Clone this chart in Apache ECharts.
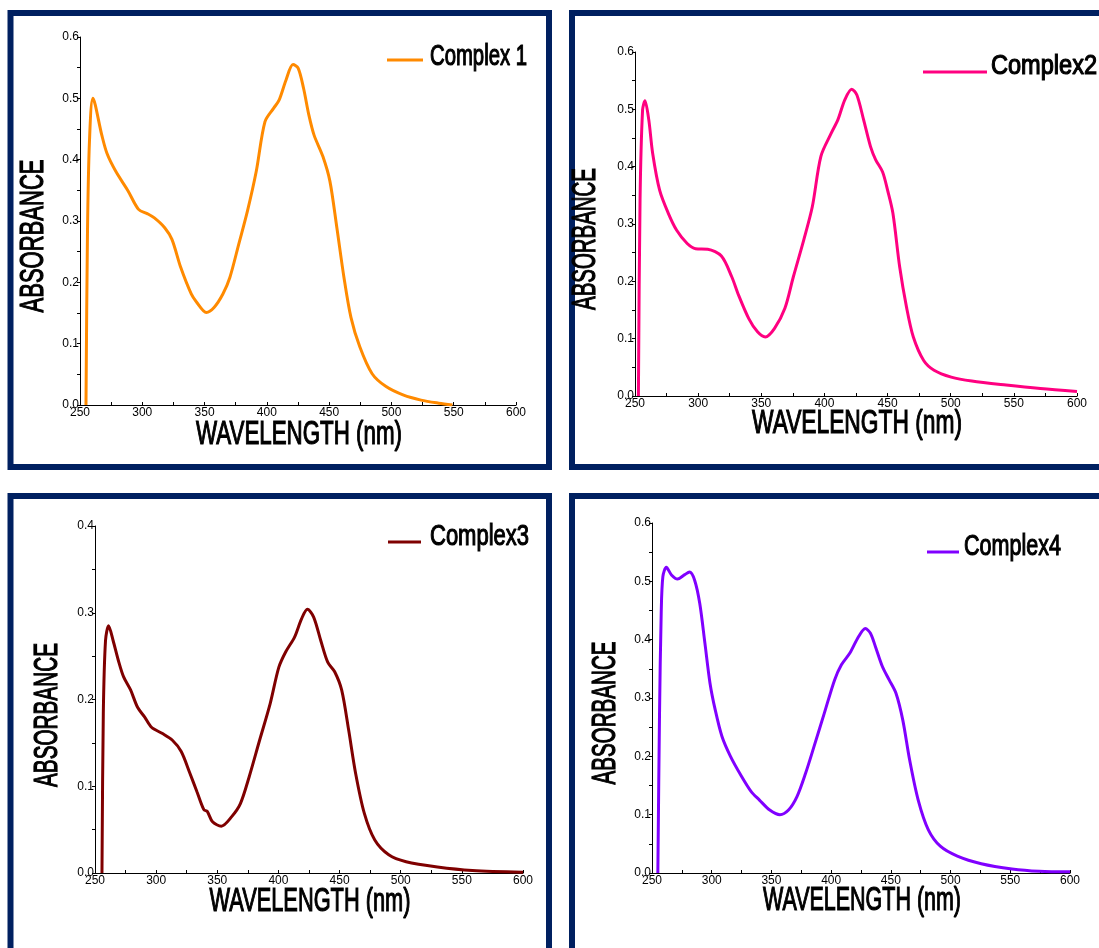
<!DOCTYPE html>
<html>
<head>
<meta charset="utf-8">
<script src="https://cdn.jsdelivr.net/npm/echarts@6/dist/echarts.min.js"></script>
<style>html,body{margin:0;padding:0;background:#fff}#c{width:1099px;height:948px}</style>
</head>
<body>
<div id="c"></div>
<script>
// ---- data (wavelength nm / absorbance) ----
const xTicks = [250, 300, 350, 400, 450, 500, 550, 600];
const seriesNames = ['Complex 1', 'Complex2', 'Complex3', 'Complex4'];

const wl1 = [254.8, 256, 257.6, 260.4, 267.5, 271.7, 278.7, 288.6, 297, 304, 309.7, 318, 323.8, 330.9, 339.3, 343.5, 351.4, 357.6, 364.7, 370.3, 377.4, 384.4, 391.5, 398.5, 405.5, 409.8, 415.4, 421, 425.2, 429.5, 433.7, 437.9, 445, 450.6, 456.2, 461.9, 467.5, 474.6, 484.5, 495.7, 509.8, 523.8, 538, 549];
const abs1 = [0, 0.28, 0.43, 0.50, 0.44, 0.41, 0.381, 0.349, 0.319, 0.312, 0.305, 0.289, 0.27, 0.224, 0.181, 0.168, 0.151, 0.159, 0.181, 0.208, 0.262, 0.316, 0.381, 0.462, 0.484, 0.497, 0.53, 0.555, 0.549, 0.516, 0.473, 0.44, 0.405, 0.365, 0.289, 0.208, 0.143, 0.095, 0.051, 0.030, 0.016, 0.008, 0.003, 0];

const wl2 = [252.7, 254, 256, 257.9, 260.9, 264, 269.5, 276.3, 283, 291.3, 298, 307.6, 318.4, 326.6, 332, 340.1, 347, 353.2, 360.5, 368.7, 375.4, 383.6, 390.4, 397.2, 405.3, 410.7, 416.2, 421.6, 425.7, 431, 436.5, 440.6, 446, 450, 454.2, 459.6, 465, 470.4, 478.6, 486.8, 500.4, 516.7, 543.9, 571, 600];
const abs2 = [0, 0.342, 0.499, 0.515, 0.482, 0.423, 0.359, 0.319, 0.289, 0.266, 0.257, 0.256, 0.244, 0.208, 0.176, 0.135, 0.112, 0.103, 0.118, 0.153, 0.208, 0.272, 0.33, 0.418, 0.458, 0.482, 0.517, 0.535, 0.525, 0.482, 0.435, 0.412, 0.391, 0.359, 0.319, 0.225, 0.155, 0.103, 0.062, 0.045, 0.033, 0.026, 0.019, 0.013, 0.008];

const wl3 = [255.7, 256.8, 258.6, 261.1, 264.8, 269.1, 273.4, 279.1, 284.8, 290.5, 296.2, 304.8, 313.3, 320.5, 327.6, 333.3, 339, 341.8, 346.1, 353.3, 361.8, 368.9, 376.1, 384.6, 393.2, 400.3, 406, 413.2, 418.9, 423.7, 428.8, 434.6, 440.3, 446, 451.7, 457.4, 463.1, 470.2, 478.8, 490.2, 504.4, 530, 558.6, 600];
const abs3 = [0, 0.184, 0.268, 0.285, 0.268, 0.245, 0.226, 0.211, 0.191, 0.18, 0.168, 0.161, 0.153, 0.14, 0.115, 0.094, 0.073, 0.071, 0.059, 0.054, 0.065, 0.08, 0.111, 0.153, 0.195, 0.237, 0.255, 0.272, 0.293, 0.304, 0.295, 0.268, 0.243, 0.232, 0.211, 0.165, 0.115, 0.069, 0.038, 0.021, 0.013, 0.007, 0.003, 0.001];

const wl4 = [254.9, 256.3, 257.7, 259.1, 262, 266.3, 271.4, 277.1, 281.4, 285.7, 290, 294.3, 298.6, 302.9, 308.6, 315.7, 324.3, 332.9, 340, 348.6, 357.1, 364.3, 371.4, 378.6, 385.7, 394.3, 402.9, 408.6, 415.7, 422.9, 428.6, 432.9, 437.1, 442.9, 448.6, 454.3, 460, 465.7, 472.9, 481.4, 491.4, 505.7, 525.7, 551.4, 574.3, 600];
const abs4 = [0, 0.274, 0.445, 0.508, 0.524, 0.511, 0.504, 0.511, 0.516, 0.502, 0.462, 0.394, 0.325, 0.28, 0.234, 0.2, 0.168, 0.14, 0.125, 0.108, 0.1, 0.108, 0.131, 0.171, 0.217, 0.274, 0.331, 0.357, 0.377, 0.405, 0.419, 0.411, 0.388, 0.354, 0.331, 0.308, 0.262, 0.194, 0.125, 0.074, 0.046, 0.029, 0.016, 0.007, 0.003, 0.002];

const yMax = [0.6, 0.6, 0.4, 0.6];

// ---- layout / styles ----
const colors = ['#FF8A00', '#FF0080', '#7F0000', '#8000FF'];
const grids = [
  {left: 80, top: 37, width: 436, height: 368},
  {left: 635, top: 52, width: 442, height: 344},
  {left: 95, top: 526, width: 428, height: 347},
  {left: 652, top: 523, width: 418, height: 350}
];
const FONT = '"Liberation Sans", Arial, Helvetica, sans-serif';
const frameColor = '#002060';

const measureCanvas = document.createElement('canvas').getContext('2d');
function fitScale(text, size, target) {
  measureCanvas.font = size + 'px ' + FONT;
  return target / measureCanvas.measureText(text).width;
}

const allWl = [wl1, wl2, wl3, wl4];
const allAbs = [abs1, abs2, abs3, abs4];

const xAxes = [], yAxes = [], series = [];
for (let i = 0; i < 4; i++) {
  xAxes.push({
    type: 'value', gridIndex: i, min: xTicks[0], max: xTicks[xTicks.length - 1], interval: 50,
    axisLine: {show: true, onZero: false, lineStyle: {color: '#000', width: 1}},
    axisTick: {show: true, inside: true, length: 3, lineStyle: {color: '#000'}},
    minorTick: {show: true, splitNumber: 2, length: 3, lineStyle: {color: '#000'}},
    splitLine: {show: false},
    axisLabel: {show: true, margin: 2, fontSize: 12, fontFamily: FONT, color: '#000'}
  });
  yAxes.push({
    type: 'value', gridIndex: i, min: 0, max: yMax[i], interval: 0.1,
    axisLine: {show: true, onZero: false, lineStyle: {color: '#000', width: 1}},
    axisTick: {show: true, inside: false, length: 3, lineStyle: {color: '#000'}},
    minorTick: {show: true, splitNumber: 2, length: 3, lineStyle: {color: '#000'}},
    splitLine: {show: false},
    axisLabel: {show: true, margin: 1, fontSize: 12, fontFamily: FONT, color: '#000',
      formatter: v => v.toFixed(1)}
  });
  series.push({
    name: seriesNames[i], type: 'line', xAxisIndex: i, yAxisIndex: i,
    data: allWl[i].map((w, k) => [w, allAbs[i][k]]),
    showSymbol: false, smooth: 0.3,
    lineStyle: {color: colors[i], width: 3}, itemStyle: {color: colors[i]},
    z: 3
  });
}

// frames
const frames = [
  {x: 10.5, y: 13, w: 538.5, h: 454},
  {x: 572, y: 13, w: 560, h: 454},
  {x: 10.5, y: 496, w: 538.5, h: 500},
  {x: 572, y: 496, w: 560, h: 500}
];
const graphic = frames.map(f => ({
  type: 'rect', silent: true, z: 0,
  shape: {x: f.x, y: f.y, width: f.w, height: f.h},
  style: {fill: null, stroke: frameColor, lineWidth: 6}
}));

// axis titles
const xTitle = 'WAVELENGTH (nm)', yTitle = 'ABSORBANCE';
const xTitlePos = [[299, 435, 206], [857, 424, 210], [310, 902, 201], [862, 901, 198]];
const yTitlePos = [[34, 236, 153], [586, 239, 142], [48, 715, 144], [606, 713, 143]];
const TS = 34;
const heavy = {stroke: '#000', lineWidth: 1.2};
xTitlePos.forEach(p => graphic.push({
  type: 'text', x: p[0], y: p[1], scaleX: fitScale(xTitle, TS, p[2]), z: 5,
  style: Object.assign({text: xTitle, fontSize: TS, fontFamily: FONT, fill: '#000', align: 'center', verticalAlign: 'middle'}, heavy)
}));
yTitlePos.forEach(p => graphic.push({
  type: 'text', x: p[0], y: p[1], rotation: Math.PI / 2, scaleX: fitScale(yTitle, TS, p[2]), z: 5,
  style: Object.assign({text: yTitle, fontSize: TS, fontFamily: FONT, fill: '#000', align: 'center', verticalAlign: 'middle'}, heavy)
}));

// legends: [lineX1, lineX2, lineY, textX, textMidY, textWidth, fontSize]
const legendPos = [
  [387, 423, 60, 430, 57, 97, 29],
  [923, 987, 72, 991, 67, 106, 27],
  [388, 421, 542, 430, 537, 99, 30],
  [927, 959, 552, 964, 547, 97, 30]
];
legendPos.forEach((p, i) => {
  graphic.push({
    type: 'line', silent: true, z: 5,
    shape: {x1: p[0], y1: p[2], x2: p[1], y2: p[2]},
    style: {stroke: colors[i], lineWidth: 3}
  });
  graphic.push({
    type: 'text', x: p[3], y: p[4], scaleX: fitScale(seriesNames[i], p[6], p[5]), z: 5,
    style: Object.assign({text: seriesNames[i], fontSize: p[6], fontFamily: FONT, fill: '#000', align: 'left', verticalAlign: 'middle'}, heavy)
  });
});

const chart = echarts.init(document.getElementById('c'), null, {renderer: 'canvas'});
chart.setOption({
  backgroundColor: '#fff',
  animation: false,
  grid: grids.map(g => Object.assign({containLabel: false}, g)),
  xAxis: xAxes,
  yAxis: yAxes,
  series: series,
  graphic: graphic
});
</script>
</body>
</html>
